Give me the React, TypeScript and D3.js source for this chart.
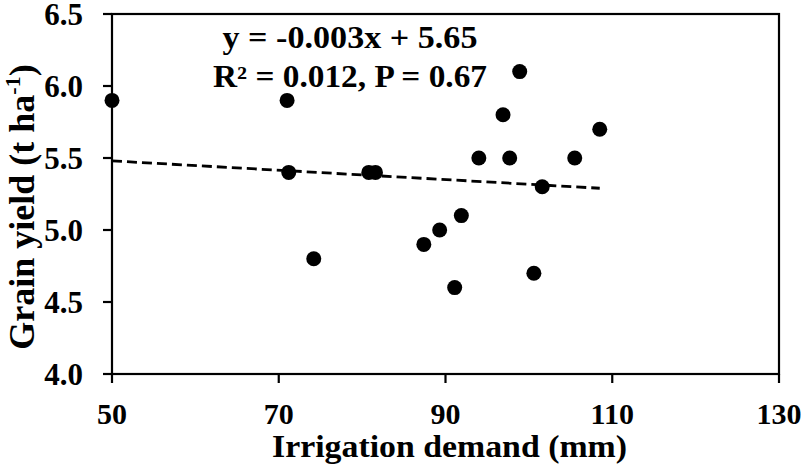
import React from "react";
import * as d3 from "d3";

const irrigation = [50, 71, 71.2, 74.2, 80.8, 81.6, 87.4, 89.3, 91.9, 91.1, 94.0, 96.9, 98.9, 97.7, 101.6, 100.6, 105.5, 108.5];
const grainYield = [5.9, 5.9, 5.4, 4.8, 5.4, 5.4, 4.9, 5.0, 5.1, 4.6, 5.5, 5.8, 6.1, 5.5, 5.3, 4.7, 5.5, 5.7];
const trendX = [50, 108.5];
const trendY = [5.48, 5.29];
const xTicks = [50, 70, 90, 110, 130];
const yTicks = [4.0, 4.5, 5.0, 5.5, 6.0, 6.5];
const equationLines = ["y = -0.003x + 5.65", "R² = 0.012, P = 0.67"];

const W = 806;
const H = 468;
const left = 112;
const right = 779;
const top = 14;
const bottom = 374;
const font = "'Liberation Serif', 'Times New Roman', serif";
const eqWidths = [255, 274];

export default function App() {
  const x = d3.scaleLinear().domain([50, 130]).range([left, right]);
  const y = d3.scaleLinear().domain([4.0, 6.5]).range([bottom, top]);
  const trend = trendX.map((v, i) => [v, trendY[i]] as [number, number]);
  const line = d3
    .line<[number, number]>()
    .x((d) => x(d[0]))
    .y((d) => y(d[1]));

  return (
    <svg
      width={W}
      height={H}
      style={{ position: "absolute", left: 0, top: 0, background: "#fff" }}
      fontFamily={font}
      fontWeight="bold"
    >
      <rect x={0} y={0} width={W} height={H} fill="#fff" />
      <rect x={left} y={top} width={right - left} height={bottom - top} fill="none" stroke="#000" strokeWidth={2.2} />
      {yTicks.map((t) => (
        <g key={"y" + t}>
          <line x1={left - 9} x2={left} y1={y(t)} y2={y(t)} stroke="#000" strokeWidth={2.2} />
          <text x={left - 29} y={y(t)} dy="0.35em" textAnchor="end" fontSize={31} fill="#000">
            {t.toFixed(1)}
          </text>
        </g>
      ))}
      {xTicks.map((t) => (
        <g key={"x" + t}>
          <line x1={x(t)} x2={x(t)} y1={bottom} y2={bottom + 9} stroke="#000" strokeWidth={2.2} />
          <text x={x(t)} y={424} textAnchor="middle" fontSize={30} fill="#000">
            {t}
          </text>
        </g>
      ))}
      <path d={line(trend) || ""} fill="none" stroke="#000" strokeWidth={2.8} strokeDasharray="10 5" />
      {irrigation.map((v, i) => (
        <circle key={i} cx={x(v)} cy={y(grainYield[i])} r={7.5} fill="#000" />
      ))}
      {equationLines.map((s, i) => (
        <text
          key={s}
          x={350 - eqWidths[i] / 2}
          y={48 + i * 39}
          fontSize={31}
          fill="#000"
          textLength={eqWidths[i]}
          lengthAdjust="spacingAndGlyphs"
        >
          {s}
        </text>
      ))}
      <text
        x={449 - 177}
        y={457}
        fontSize={31}
        fill="#000"
        textLength={355}
        lengthAdjust="spacingAndGlyphs"
      >
        Irrigation demand (mm)
      </text>
      <text transform="translate(34,207) rotate(-90)" textAnchor="middle" fontSize={36} fill="#000">
        Grain yield (t ha
        <tspan fontSize={22} dy={-14}>-1</tspan>
        <tspan dy={14}>)</tspan>
      </text>
    </svg>
  );
}
